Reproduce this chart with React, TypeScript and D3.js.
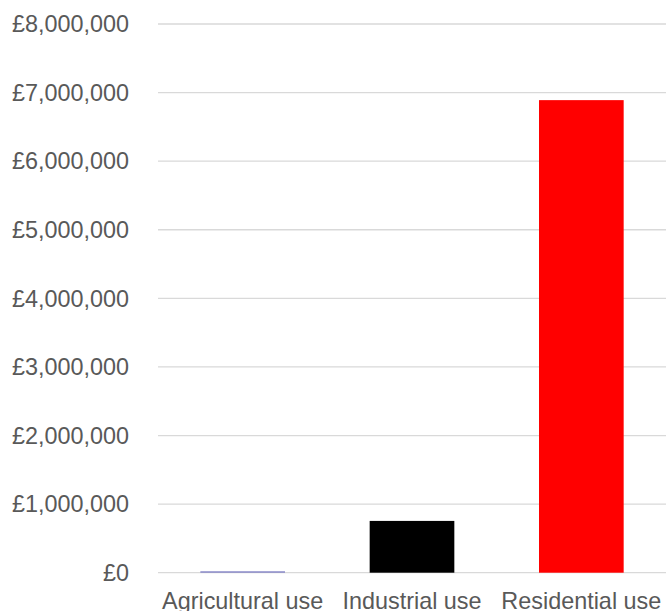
import React from "react";
import * as d3 from "d3";

const categories = ["Agricultural use", "Industrial use", "Residential use"];
const values = [20000, 755000, 6890000];
const barColors = ["#7f7fc4", "#000000", "#ff0000"];
const yTicks = [0, 1000000, 2000000, 3000000, 4000000, 5000000, 6000000, 7000000, 8000000];

const W = 666;
const H = 611;
const margin = { left: 158, right: 0, top: 24, bottom: 38 };

export default function App() {
  const x = d3
    .scaleBand<string>()
    .domain(categories)
    .range([margin.left, W - margin.right])
    .paddingInner(0.5)
    .paddingOuter(0.25);
  const y = d3
    .scaleLinear()
    .domain([0, 8000000])
    .range([H - margin.bottom - 0.3, margin.top]);
  const fmt = (v: number) => "£" + d3.format(",")(v);
  const font = "'Liberation Sans', Arial, sans-serif";
  return (
    <svg
      width={W}
      height={H}
      style={{ position: "absolute", left: 0, top: 0, background: "#fff" }}
    >
      {yTicks.map((t) => (
        <g key={t}>
          <line
            x1={margin.left}
            x2={W - margin.right}
            y1={y(t)}
            y2={y(t)}
            stroke="#d9d9d9"
            strokeWidth={1.3}
          />
          <text
            x={129}
            y={y(t)}
            dy="0.35em"
            textAnchor="end"
            fontFamily={font}
            fontSize={23.4}
            fill="#595959"
          >
            {fmt(t)}
          </text>
        </g>
      ))}
      {categories.map((c, i) => (
        <rect
          key={c}
          x={x(c)}
          width={x.bandwidth()}
          y={y(values[i])}
          height={y(0) - y(values[i])}
          fill={barColors[i]}
        />
      ))}
      {categories.map((c) => (
        <text
          key={c}
          x={(x(c) as number) + x.bandwidth() / 2}
          y={609}
          textAnchor="middle"
          fontFamily={font}
          fontSize={23.4}
          fill="#595959"
        >
          {c}
        </text>
      ))}
    </svg>
  );
}
